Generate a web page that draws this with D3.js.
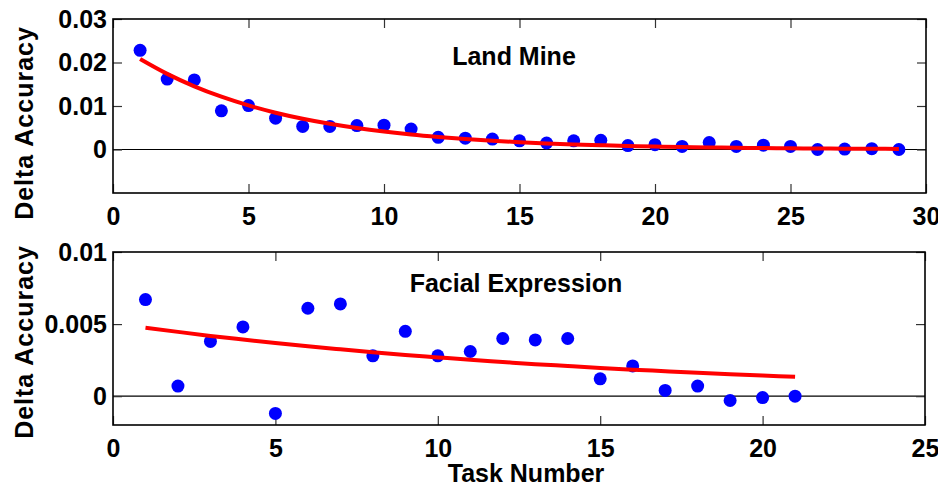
<!DOCTYPE html>
<html>
<head>
<meta charset="utf-8">
<script src="https://cdn.jsdelivr.net/npm/d3@7"></script>
<style>
  html, body { margin: 0; padding: 0; background: #fff; }
  svg text { font-family: "Liberation Sans", Arial, Helvetica, sans-serif; font-weight: bold; }
</style>
</head>
<body>
<svg id="chart" width="938" height="486"></svg>
<script>
// ---- Data: Land Mine ----
const landTasks = d3.range(1, 30);
const landDelta = [0.0228, 0.0162, 0.0160, 0.0089, 0.0101, 0.0072, 0.0053, 0.0053, 0.0055, 0.0056,
                   0.0047, 0.0028, 0.0026, 0.0024, 0.0020, 0.0015, 0.0020, 0.0021, 0.0009, 0.0011,
                   0.0007, 0.0016, 0.0007, 0.0010, 0.0007, 0.0000, 0.0001, 0.0002, 0.0000];
const landFit = [0.0208, 0.01738, 0.01452, 0.01213, 0.01013, 0.00846, 0.00707, 0.00591, 0.00493, 0.00412,
                 0.00344, 0.00288, 0.00240, 0.00201, 0.00168, 0.00140, 0.00117, 0.00098, 0.00082, 0.00068,
                 0.00057, 0.00048, 0.00040, 0.00033, 0.00028, 0.00023, 0.00019, 0.00016, 0.00014];
const landXTicks = [0, 5, 10, 15, 20, 25, 30];
const landYTicks = [0, 0.01, 0.02, 0.03];
const landYLabels = ["0", "0.01", "0.02", "0.03"];

// ---- Data: Facial Expression ----
const faceTasks = d3.range(1, 22);
const faceDelta = [0.0067, 0.0007, 0.0038, 0.0048, -0.0012, 0.0061, 0.0064, 0.0028, 0.0045, 0.0028,
                   0.0031, 0.0040, 0.0039, 0.0040, 0.0012, 0.0021, 0.0004, 0.0007, -0.0003, -0.0001, 0.0000];
const faceFit = [0.00475, 0.00446, 0.00418, 0.00393, 0.00369, 0.00346, 0.00325, 0.00305, 0.00286, 0.00269,
                 0.00252, 0.00237, 0.00222, 0.00209, 0.00196, 0.00184, 0.00173, 0.00162, 0.00152, 0.00143, 0.00134];
const faceXTicks = [0, 5, 10, 15, 20, 25];
const faceYTicks = [0, 0.005, 0.01];
const faceYLabels = ["0", "0.005", "0.01"];

const svg = d3.select("#chart");

function panel(cfg) {
  const x = d3.scaleLinear().domain(cfg.xDomain).range([cfg.left, cfg.right]);
  const y = d3.scaleLinear().domain(cfg.yDomain).range([cfg.bottom, cfg.top]);
  const g = svg.append("g");
  const tick = 9;

  // zero line
  g.append("line")
    .attr("x1", cfg.left).attr("x2", cfg.right)
    .attr("y1", y(0)).attr("y2", y(0))
    .attr("stroke", "#000").attr("stroke-width", 1.2);

  const styleAxis = sel => {
    sel.select(".domain").remove();
    sel.selectAll(".tick line").attr("stroke", "#333").attr("stroke-width", 1.2);
    sel.selectAll(".tick text").attr("fill", "#000").style("font-size", "25px");
  };

  // bottom axis
  g.append("g").attr("transform", `translate(0,${cfg.bottom})`)
    .call(d3.axisBottom(x).tickValues(cfg.xTicks).tickSizeInner(-tick).tickSizeOuter(0).tickPadding(14).tickFormat(d3.format("d")))
    .call(styleAxis);
  // top axis (ticks only)
  g.append("g").attr("transform", `translate(0,${cfg.top})`)
    .call(d3.axisTop(x).tickValues(cfg.xTicks).tickSizeInner(-tick).tickSizeOuter(0).tickFormat(""))
    .call(styleAxis);
  // left axis
  g.append("g").attr("transform", `translate(${cfg.left},0)`)
    .call(d3.axisLeft(y).tickValues(cfg.yTicks).tickSizeInner(-tick).tickSizeOuter(0).tickPadding(6)
      .tickFormat((d, i) => cfg.yLabels[i]))
    .call(styleAxis);
  // right axis (ticks only)
  g.append("g").attr("transform", `translate(${cfg.right},0)`)
    .call(d3.axisRight(y).tickValues(cfg.yTicks).tickSizeInner(-tick).tickSizeOuter(0).tickFormat(""))
    .call(styleAxis);

  // box
  g.append("rect")
    .attr("x", cfg.left).attr("y", cfg.top)
    .attr("width", cfg.right - cfg.left).attr("height", cfg.bottom - cfg.top)
    .attr("fill", "none").attr("stroke", "#000").attr("stroke-width", 1.6);

  // points
  g.append("g").selectAll("circle")
    .data(cfg.tasks.map((t, i) => [t, cfg.delta[i]]))
    .join("circle")
    .attr("cx", d => x(d[0])).attr("cy", d => y(d[1]))
    .attr("r", 6.5).attr("fill", "#0000ff");

  // fit line
  g.append("path")
    .datum(cfg.tasks.map((t, i) => [t, cfg.fit[i]]))
    .attr("d", d3.line().x(d => x(d[0])).y(d => y(d[1])).curve(d3.curveMonotoneX))
    .attr("fill", "none").attr("stroke", "#ff0000").attr("stroke-width", 4);

  // title
  g.append("text")
    .attr("x", cfg.titleX).attr("y", cfg.titleY)
    .attr("text-anchor", "middle").style("font-size", "25px")
    .text(cfg.title);

  // y label
  g.append("text")
    .attr("transform", `translate(${cfg.yLabelX},${cfg.yLabelY}) rotate(-90)`)
    .attr("text-anchor", "middle").style("font-size", "25px")
    .style("letter-spacing", "1px")
    .text("Delta Accuracy");
}

panel({
  left: 113, right: 926, top: 19, bottom: 193,
  xDomain: [0, 30], yDomain: [-0.01, 0.03],
  xTicks: landXTicks, yTicks: landYTicks, yLabels: landYLabels,
  tasks: landTasks, delta: landDelta, fit: landFit,
  title: "Land Mine", titleX: 514, titleY: 65,
  yLabelX: 33, yLabelY: 123
});

panel({
  left: 113, right: 925, top: 252, bottom: 425,
  xDomain: [0, 25], yDomain: [-0.002, 0.01],
  xTicks: faceXTicks, yTicks: faceYTicks, yLabels: faceYLabels,
  tasks: faceTasks, delta: faceDelta, fit: faceFit,
  title: "Facial Expression", titleX: 516, titleY: 292,
  yLabelX: 33, yLabelY: 342
});

svg.append("text")
  .attr("x", 526).attr("y", 482)
  .attr("text-anchor", "middle").style("font-size", "25px")
  .text("Task Number");
</script>
</body>
</html>
